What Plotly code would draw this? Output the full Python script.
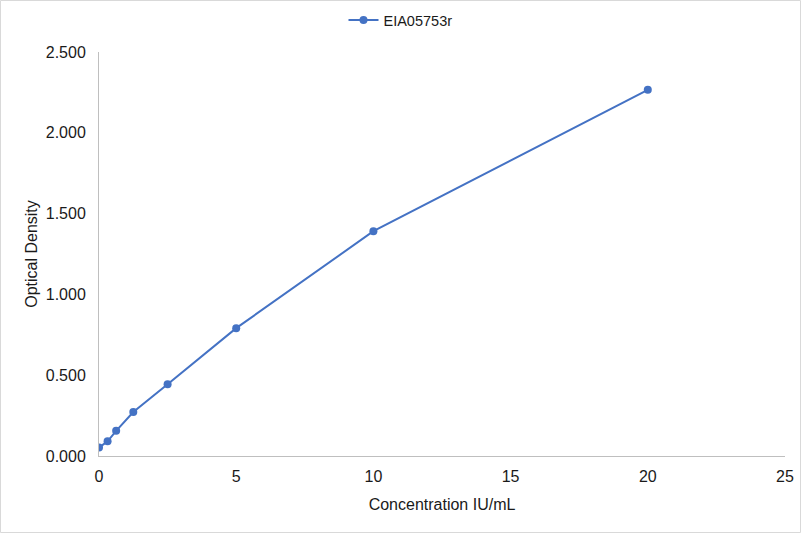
import plotly.graph_objects as go

# concentration (IU/mL) and measured OD
concentration = [0, 0.3125, 0.625, 1.25, 2.5, 5, 10, 20]
optical_density = [0.052, 0.091, 0.156, 0.272, 0.444, 0.791, 1.391, 2.266]
series_name = 'EIA05753r'

fig = go.Figure()
fig.add_trace(go.Scatter(
    x=concentration, y=optical_density, name=series_name,
    mode='lines+markers',
    line=dict(color='#4472C4', width=2),
    marker=dict(color='#4472C4', size=8),
))

axis_style = dict(showgrid=False, zeroline=False, showline=True,
                  linecolor='#BFBFBF', linewidth=1, ticks='',
                  tickfont=dict(size=16, color='#1a1a1a'))

fig.update_xaxes(range=[0, 25], dtick=5, ticklabelstandoff=6,
                 title=dict(text='Concentration IU/mL', font=dict(size=16, color='#1a1a1a'), standoff=14),
                 **axis_style)
fig.update_yaxes(range=[0, 2.5], dtick=0.5, tickformat='.3f', ticklabelstandoff=9,
                 title=dict(text='Optical Density', font=dict(size=16, color='#1a1a1a'), standoff=4),
                 **axis_style)

# light border around the whole chart
fig.add_shape(type='rect', xref='paper', yref='paper',
              x0=-98.5 / 686, x1=1 + 15.5 / 686, y0=-76.5 / 404, y1=1 + 51.5 / 404,
              line=dict(color='#D9D9D9', width=1))

fig.update_layout(
    width=801, height=533,
    margin=dict(l=99, r=16, t=52, b=77, autoexpand=False),
    paper_bgcolor='white', plot_bgcolor='white',
    font=dict(family='Liberation Sans, Arial, sans-serif'),
    showlegend=True,
    legend=dict(orientation='h', xref='container', x=0.5, xanchor='center',
                y=1 + 32 / 404, yanchor='middle',
                font=dict(size=14.5, color='#1a1a1a')),
)

fig.write_html('out.html', config={'displayModeBar': False},
               post_script="document.body.style.margin='0';")
